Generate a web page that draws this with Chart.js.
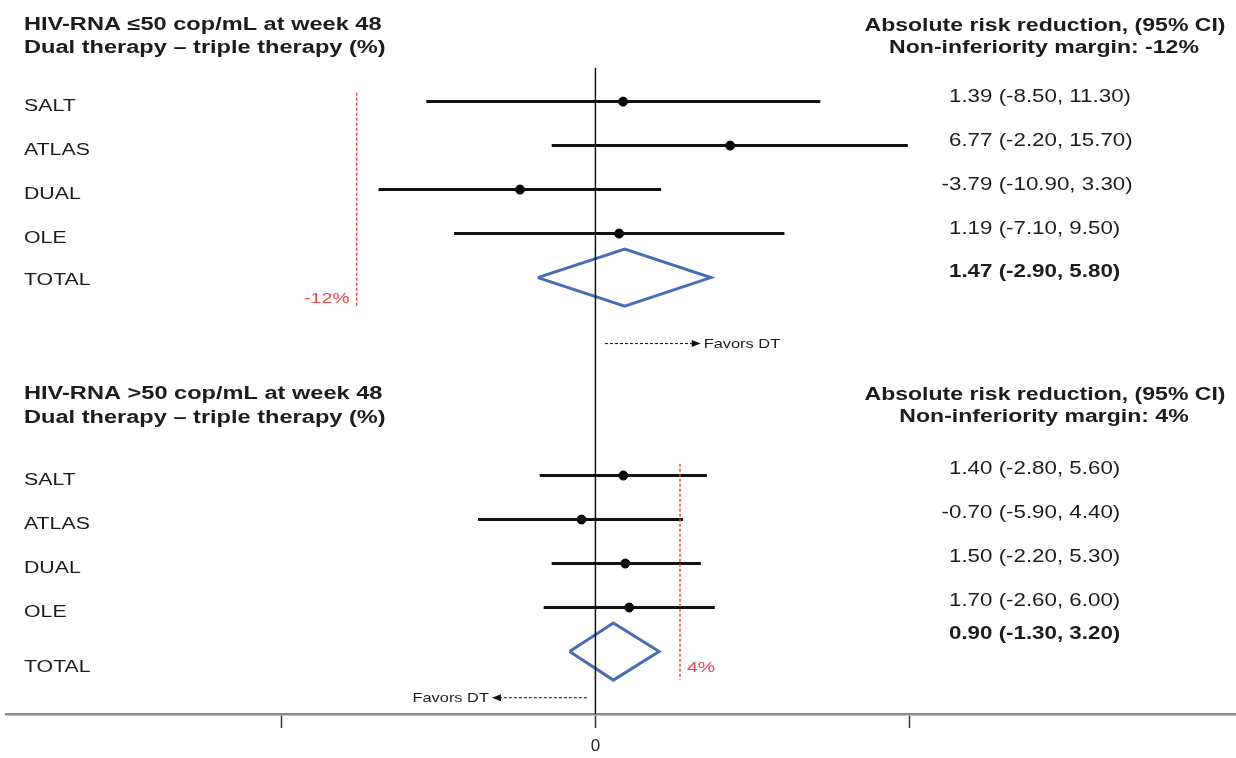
<!DOCTYPE html>
<html>
<head>
<meta charset="utf-8">
<script src="https://cdn.jsdelivr.net/npm/chart.js@4.4.1/dist/chart.umd.min.js"></script>
<style>
    html, body { margin: 0; padding: 0; background: #fff; }
    #wrap { width: 1236px; height: 758px; position: relative; }
</style>
</head>
<body>
<div id="wrap"><canvas id="forest"></canvas></div>
<script>
// HIV-RNA <=50 cop/mL at week 48
const topStudies = ['SALT', 'ATLAS', 'DUAL', 'OLE'];
const topEst = [1.39, 6.77, -3.79, 1.19];
const topLow = [-8.50, -2.20, -10.90, -7.10];
const topHigh = [11.30, 15.70, 3.30, 9.50];
const topTotal = [1.47, -2.90, 5.80];     // estimate, low, high
const topMargin = -12;

// HIV-RNA >50 cop/mL at week 48
const botStudies = ['SALT', 'ATLAS', 'DUAL', 'OLE'];
const botEst = [1.40, -0.70, 1.50, 1.70];
const botLow = [-2.80, -5.90, -2.20, -2.60];
const botHigh = [5.60, 4.40, 5.30, 6.00];
const botTotal = [0.90, -1.30, 3.20];
const botMargin = 4.25;   // drawn line sits a bit right of 4 in the picture

const xTicks = [-15.8, 0, 15.8];
const xTickLabels = ['', '0', ''];

(function () {
    const textColor = '#1c1c1c',
        ciColor = '#111',
        diamondColor = '#4a6cb0',
        marginColor = '#e8474c',
        halfDiamond = 0.65;

    const topRows = topStudies.map((s, i) => i + 1),
        botRows = botStudies.map((s, i) => i + 9.5),
        topTotalRow = 5,
        botTotalRow = 13.5;

    function ciSets(low, high, rows) {
        return low.map((l, i) => ({
            type: 'line',
            data: [{ x: l, y: rows[i] }, { x: high[i], y: rows[i] }],
            borderColor: ciColor,
            borderWidth: 3,
            pointRadius: 0
        }));
    }

    function diamond(total, row) {
        const [est, low, high] = total;
        return {
            type: 'line',
            data: [
                { x: low, y: row }, { x: est, y: row - halfDiamond },
                { x: high, y: row }, { x: est, y: row + halfDiamond }, { x: low, y: row }
            ],
            borderColor: diamondColor,
            borderWidth: 3,
            borderJoinStyle: 'miter',
            pointRadius: 0,
            tension: 0
        };
    }

    function fmt(v) {
        return v.toFixed(2);
    }

    function drawText(ctx, text, x, y, font, color, align, sx) {
        ctx.save();
        ctx.font = font;
        ctx.fillStyle = color;
        ctx.textAlign = align;
        ctx.textBaseline = 'alphabetic';
        ctx.translate(x, y);
        ctx.scale(sx, 1);
        ctx.fillText(text, 0, 0);
        ctx.restore();
    }

    function arrow(ctx, x1, x2, y) {
        const dir = x2 > x1 ? 1 : -1;
        ctx.save();
        ctx.strokeStyle = '#111';
        ctx.fillStyle = '#111';
        ctx.lineWidth = 1;
        ctx.setLineDash([3, 2]);
        ctx.beginPath();
        ctx.moveTo(x1, y);
        ctx.lineTo(x2 - dir * 7, y);
        ctx.stroke();
        ctx.setLineDash([]);
        ctx.beginPath();
        ctx.moveTo(x2, y);
        ctx.lineTo(x2 - dir * 9, y - 3.5);
        ctx.lineTo(x2 - dir * 9, y + 3.5);
        ctx.closePath();
        ctx.fill();
        ctx.restore();
    }

    const textPlugin = {
        id: 'forestText',
        afterDatasetsDraw(chart) {
            const ctx = chart.ctx,
                xs = chart.scales.x,
                ys = chart.scales.y,
                sans = '"Liberation Sans", Arial, sans-serif';

            // headers
            drawText(ctx, 'HIV-RNA \u226450 cop/mL at week 48', 24, 30, 'bold 18px ' + sans, textColor, 'left', 1.31);
            drawText(ctx, 'Dual therapy \u2013 triple therapy (%)', 24, 53, 'bold 18px ' + sans, textColor, 'left', 1.31);
            drawText(ctx, 'Absolute risk reduction, (95% CI)', 1045, 31, 'bold 18px ' + sans, textColor, 'center', 1.28);
            drawText(ctx, 'Non-inferiority margin: -12%', 1044, 53, 'bold 18px ' + sans, textColor, 'center', 1.28);

            drawText(ctx, 'HIV-RNA >50 cop/mL at week 48', 24, 399, 'bold 18px ' + sans, textColor, 'left', 1.31);
            drawText(ctx, 'Dual therapy \u2013 triple therapy (%)', 24, 423, 'bold 18px ' + sans, textColor, 'left', 1.31);
            drawText(ctx, 'Absolute risk reduction, (95% CI)', 1045, 400, 'bold 18px ' + sans, textColor, 'center', 1.28);
            drawText(ctx, 'Non-inferiority margin: 4%', 1044, 422, 'bold 18px ' + sans, textColor, 'center', 1.28);

            function block(studies, est, low, high, rows, total, totalRow, labelTotalOff, valTotalOff) {
                const rowFont = '16px ' + sans,
                    valFont = '18px ' + sans,
                    boldVal = 'bold 18px ' + sans;
                studies.forEach((s, i) => {
                    const py = ys.getPixelForValue(rows[i]);
                    drawText(ctx, s, 24, py + 9, rowFont, textColor, 'left', 1.33);
                    ctx.font = valFont;
                    const shift = est[i] < 0 ? ctx.measureText('-').width * 1.24 : 0;
                    drawText(ctx, fmt(est[i]) + ' (' + fmt(low[i]) + ', ' + fmt(high[i]) + ')',
                        949 - shift, py + (totalRow > 6 ? -2 : 0), valFont, textColor, 'left', 1.24);
                });
                const ty = ys.getPixelForValue(totalRow);
                drawText(ctx, 'TOTAL', 24, ty + labelTotalOff, rowFont, textColor, 'left', 1.33);
                drawText(ctx, fmt(total[0]) + ' (' + fmt(total[1]) + ', ' + fmt(total[2]) + ')',
                    949, ty + valTotalOff, boldVal, textColor, 'left', 1.24);
            }
            block(topStudies, topEst, topLow, topHigh, topRows, topTotal, topTotalRow, 7, -1);
            block(botStudies, botEst, botLow, botHigh, botRows, botTotal, botTotalRow, 20, -13);

            // margin labels
            drawText(ctx, '-12%', xs.getPixelForValue(topMargin) - 7, 303, '15px ' + sans, marginColor, 'right', 1.3);
            drawText(ctx, '4%', xs.getPixelForValue(botMargin) + 7, 672, '15px ' + sans, marginColor, 'left', 1.3);

            // favour arrows
            const ay1 = ys.getPixelForValue(6.5);
            arrow(ctx, xs.getPixelForValue(0.48), xs.getPixelForValue(5.29), ay1);
            drawText(ctx, 'Favors DT', xs.getPixelForValue(5.29) + 3, ay1 + 4.5, '13px ' + sans, textColor, 'left', 1.26);
            const ay2 = ys.getPixelForValue(14.55);
            arrow(ctx, xs.getPixelForValue(-0.43), xs.getPixelForValue(-5.2), ay2);
            drawText(ctx, 'Favors DT', xs.getPixelForValue(-5.2) - 3, ay2 + 4.5, '13px ' + sans, textColor, 'right', 1.26);
        }
    };

    const datasets = [
        {
            type: 'line',
            data: [{ x: topMargin, y: 0.8 }, { x: topMargin, y: 5.66 }],
            borderColor: marginColor, borderWidth: 1.5, borderDash: [3, 2], pointRadius: 0
        },
        {
            type: 'line',
            data: [{ x: botMargin, y: 9.23 }, { x: botMargin, y: 14.14 }],
            borderColor: marginColor, borderWidth: 1.5, borderDash: [3, 2], pointRadius: 0
        },
        {
            type: 'line',
            data: [{ x: 0, y: 0.23 }, { x: 0, y: 14.92 }],
            borderColor: '#111', borderWidth: 1.5, pointRadius: 0
        },
        ...ciSets(topLow, topHigh, topRows),
        ...ciSets(botLow, botHigh, botRows),
        {
            type: 'scatter',
            data: topEst.map((v, i) => ({ x: v, y: topRows[i] }))
                .concat(botEst.map((v, i) => ({ x: v, y: botRows[i] }))),
            backgroundColor: '#000', borderColor: '#000', pointRadius: 4.5
        },
        diamond(topTotal, topTotalRow),
        diamond(botTotal, botTotalRow)
    ];

    new Chart(document.getElementById('forest'), {
        type: 'scatter',
        data: { datasets: datasets },
        options: {
            responsive: true,
            maintainAspectRatio: false,
            animation: false,
            layout: { autoPadding: false, padding: { left: 6, right: 0, top: 0, bottom: 0 } },
            plugins: { legend: { display: false }, tooltip: { enabled: false } },
            scales: {
                x: {
                    type: 'linear',
                    min: -29.62,
                    max: 32.19,
                    afterBuildTicks: function (scale) {
                        scale.ticks = xTicks.map((v) => ({ value: v }));
                    },
                    afterFit: function (scale) {
                        scale.height = 44;
                    },
                    ticks: {
                        autoSkip: false,
                        maxRotation: 0,
                        padding: 8,
                        color: '#222',
                        font: { family: '"Liberation Sans", Arial, sans-serif', size: 17 },
                        callback: function (value, index) {
                            return xTickLabels[index];
                        }
                    },
                    grid: {
                        drawOnChartArea: false,
                        drawTicks: true,
                        tickLength: 14,
                        tickColor: '#333',
                        tickWidth: 1.5
                    },
                    border: { display: true, color: '#8a8a8a', width: 2.5 }
                },
                y: {
                    type: 'linear',
                    display: false,
                    reverse: true,
                    min: -1.31,
                    max: 14.92
                }
            }
        },
        plugins: [textPlugin]
    });
})()
</script>
</body>
</html>
